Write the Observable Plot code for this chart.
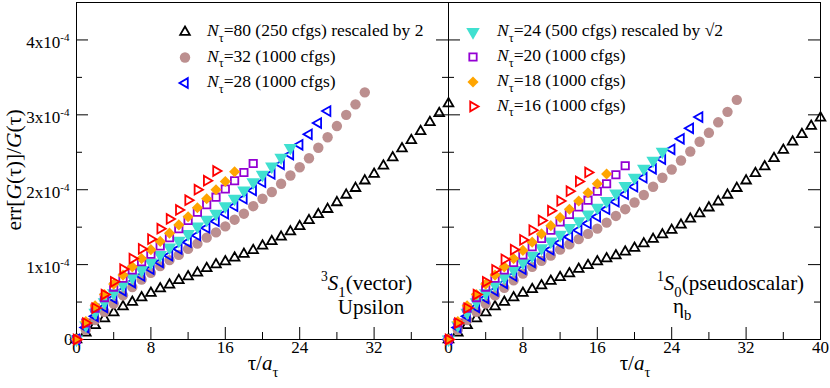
<!DOCTYPE html>
<html><head><meta charset="utf-8">
<script src="https://cdn.jsdelivr.net/npm/d3@7"></script>
<script src="https://cdn.jsdelivr.net/npm/@observablehq/plot@0.6"></script>
<style>body{margin:0;background:#fff}svg{display:block}svg text{font-family:"Liberation Serif","Times New Roman",Times,"DejaVu Serif",serif}</style>
</head><body><div id="chart"></div>
<script>
// ---- data (values in units of 1e-4), index = tau/a_tau ----
const panels = ["vector", "pseudo"];
const seriesKeys = ["N80", "N32", "N28", "N24", "N20", "N18", "N16"];
const seriesLabels = [
  "*{N}_{τ}=80 (250 cfgs) rescaled by 2",
  "*{N}_{τ}=32 (1000 cfgs)",
  "*{N}_{τ}=28 (1000 cfgs)",
  "*{N}_{τ}=24 (500 cfgs) rescaled by √2",
  "*{N}_{τ}=20 (1000 cfgs)",
  "*{N}_{τ}=18 (1000 cfgs)",
  "*{N}_{τ}=16 (1000 cfgs)"
];
// 3S1 (vector, Upsilon)
const vector_N80 = [0, 0.09, 0.19, 0.28, 0.36, 0.44, 0.50, 0.56, 0.62, 0.68, 0.73, 0.79, 0.84, 0.89, 0.95, 1.00, 1.04, 1.09, 1.14, 1.19, 1.25, 1.31, 1.37, 1.44, 1.51, 1.59, 1.67, 1.74, 1.83, 1.93, 2.02, 2.12, 2.21, 2.32, 2.43, 2.55, 2.66, 2.78, 2.90, 3.02, 3.15];
const vector_N32 = [0, 0.13, 0.26, 0.37, 0.48, 0.59, 0.70, 0.80, 0.89, 0.98, 1.06, 1.13, 1.21, 1.28, 1.36, 1.43, 1.51, 1.60, 1.68, 1.78, 1.88, 1.97, 2.08, 2.19, 2.30, 2.42, 2.56, 2.70, 2.85, 3.00, 3.14, 3.30];
const vector_N28 = [0, 0.16, 0.31, 0.43, 0.55, 0.65, 0.76, 0.85, 0.94, 1.03, 1.12, 1.21, 1.30, 1.39, 1.49, 1.58, 1.68, 1.78, 1.88, 1.99, 2.10, 2.21, 2.34, 2.47, 2.60, 2.74, 2.89, 3.05];
const vector_N24 = [0, 0.19, 0.36, 0.50, 0.62, 0.73, 0.83, 0.93, 1.03, 1.13, 1.23, 1.32, 1.41, 1.51, 1.60, 1.68, 1.78, 1.88, 1.99, 2.10, 2.20, 2.31, 2.43, 2.56];
const vector_N20 = [0, 0.22, 0.42, 0.56, 0.70, 0.82, 0.93, 1.04, 1.14, 1.25, 1.36, 1.48, 1.59, 1.70, 1.80, 1.90, 2.01, 2.12, 2.23, 2.35];
const vector_N18 = [0, 0.24, 0.45, 0.60, 0.74, 0.86, 0.97, 1.08, 1.20, 1.31, 1.42, 1.53, 1.64, 1.76, 1.88, 2.00, 2.11, 2.24];
const vector_N16 = [0, 0.22, 0.42, 0.60, 0.77, 0.94, 1.08, 1.21, 1.34, 1.48, 1.61, 1.73, 1.86, 2.00, 2.12, 2.25];
// 1S0 (pseudoscalar, eta_b)
const pseudo_N80 = [0, 0.09, 0.19, 0.28, 0.36, 0.44, 0.50, 0.56, 0.62, 0.67, 0.72, 0.78, 0.83, 0.88, 0.94, 0.99, 1.04, 1.08, 1.12, 1.17, 1.22, 1.28, 1.34, 1.40, 1.46, 1.53, 1.61, 1.68, 1.76, 1.84, 1.93, 2.02, 2.12, 2.22, 2.31, 2.42, 2.53, 2.64, 2.74, 2.85, 2.96];
const pseudo_N32 = [0, 0.13, 0.26, 0.37, 0.48, 0.59, 0.69, 0.79, 0.88, 0.97, 1.05, 1.12, 1.20, 1.27, 1.34, 1.41, 1.48, 1.56, 1.65, 1.74, 1.83, 1.93, 2.04, 2.16, 2.27, 2.39, 2.51, 2.64, 2.76, 2.90, 3.04, 3.20];
const pseudo_N28 = [0, 0.16, 0.31, 0.43, 0.55, 0.65, 0.75, 0.85, 0.94, 1.03, 1.12, 1.20, 1.29, 1.37, 1.46, 1.55, 1.64, 1.74, 1.84, 1.94, 2.04, 2.16, 2.28, 2.41, 2.54, 2.68, 2.82, 2.97];
const pseudo_N24 = [0, 0.19, 0.36, 0.50, 0.62, 0.73, 0.83, 0.93, 1.03, 1.12, 1.22, 1.31, 1.40, 1.49, 1.58, 1.67, 1.76, 1.85, 1.95, 2.05, 2.16, 2.28, 2.39, 2.51];
const pseudo_N20 = [0, 0.22, 0.42, 0.56, 0.70, 0.82, 0.93, 1.03, 1.13, 1.24, 1.35, 1.46, 1.57, 1.67, 1.77, 1.86, 1.98, 2.08, 2.20, 2.32];
const pseudo_N18 = [0, 0.24, 0.45, 0.60, 0.74, 0.86, 0.97, 1.08, 1.19, 1.30, 1.41, 1.52, 1.63, 1.74, 1.85, 1.96, 2.08, 2.21];
const pseudo_N16 = [0, 0.22, 0.42, 0.60, 0.77, 0.93, 1.07, 1.20, 1.33, 1.46, 1.59, 1.72, 1.85, 1.98, 2.11, 2.23];

const xTicksVector = [0, 8, 16, 24, 32];
const xTicksPseudo = [0, 8, 16, 24, 32, 40];
const xMajor = [0, 8, 16, 24, 32, 40];
const xMinor = [4, 12, 20, 28, 36];
const yMajor = [0, 1, 2, 3, 4];
const yMinor = [0.5, 1.5, 2.5, 3.5];
const yTickLabels = ["0", "1x10^{-4}", "2x10^{-4}", "3x10^{-4}", "4x10^{-4}"];

// ---- build table ----
const dataSets = {
  vector: [vector_N80, vector_N32, vector_N28, vector_N24, vector_N20, vector_N18, vector_N16],
  pseudo: [pseudo_N80, pseudo_N32, pseudo_N28, pseudo_N24, pseudo_N20, pseudo_N18, pseudo_N16]
};
const rows = [];
for (const p of panels) dataSets[p].forEach((arr, si) => arr.forEach((v, t) => rows.push({panel: p, series: seriesKeys[si], tau: t, v})));

const styles = {
  N80: {symbol: "triangle2", stroke: "#000000", fill: "none", strokeWidth: 1.8, r: 4.6, rotate: 0},
  N32: {symbol: "circle", fill: "#bc8f8f", r: 5.2},
  N28: {symbol: "triangle2", stroke: "#0000ff", fill: "none", strokeWidth: 1.8, r: 4.6, rotate: -90},
  N24: {symbol: "triangle", fill: "#40e0d0", r: 5.0, rotate: 180},
  N20: {symbol: "square2", stroke: "#9400d3", fill: "none", strokeWidth: 1.8, r: 4.7},
  N18: {symbol: "diamond2", fill: "#ffa500", r: 5.0},
  N16: {symbol: "triangle2", stroke: "#ff0000", fill: "none", strokeWidth: 1.8, r: 4.6, rotate: 90}
};

const xTickRows = [...xTicksVector.map(v => ({panel: "vector", v})), ...xTicksPseudo.map(v => ({panel: "pseudo", v}))];
const yTickRows = yMajor.map((v, i) => ({panel: "vector", v, label: yTickLabels[i]}));

const FONT = "'Liberation Serif','Times New Roman',Times,'DejaVu Serif',serif";
const H = 337;  // frame height
const W = 372;  // facet width
const marks = [
  Plot.tickX(xMajor, {x: d => d, insetTop: H - 12, stroke: "#000"}),
  Plot.tickX(xMinor, {x: d => d, insetTop: H - 7, stroke: "#000"}),
  Plot.tickY(yMajor, {y: d => d, insetRight: W - 12, stroke: "#000"}),
  Plot.tickY(yMajor, {y: d => d, insetLeft: W - 12, stroke: "#000"}),
  Plot.tickY(yMinor, {y: d => d, insetRight: W - 6, stroke: "#000"}),
  Plot.tickY(yMinor, {y: d => d, insetLeft: W - 6, stroke: "#000"}),
  Plot.frame({stroke: "#000", strokeWidth: 1}),
  Plot.text(xTickRows, {x: "v", fx: "panel", text: d => String(d.v), frameAnchor: "bottom", dy: 13, fontSize: 17, fill: "#000"}),
  Plot.text(yTickRows.filter(d => d.v === 0), {y: "v", fx: "panel", text: "label", frameAnchor: "left", textAnchor: "end", dx: -4, fontSize: 17, fill: "#000"}),
  Plot.text(yTickRows.filter(d => d.v !== 0), {y: "v", fx: "panel", text: "label", frameAnchor: "left", textAnchor: "end", dx: -7, dy: 3, fontSize: 17, fill: "#000"})
];
for (const k of seriesKeys) {
  const s = styles[k];
  marks.push(Plot.dot(rows.filter(d => d.series === k), {x: "tau", y: "v", fx: "panel", ...s}));
}

const svg = Plot.plot({
  width: 830, height: 388,
  marginLeft: 76, marginRight: 10, marginTop: 2, marginBottom: 49,
  style: {fontFamily: FONT, fontSize: "16px", color: "#000", background: "#fff"},
  fx: {domain: panels, padding: 0, axis: null},
  x: {domain: [0, 40], axis: null},
  y: {domain: [0, 4.5], axis: null},
  marks
});
document.getElementById("chart").append(svg);

// ---- rich text helper ----
function richify(el, str, fs) {
  const t = d3.select(el);
  t.text(null);
  const re = /([\^_*])\{([^}]*)\}/g;
  let last = 0, m; const parts = [];
  while ((m = re.exec(str))) {
    if (m.index > last) parts.push({k: "", s: str.slice(last, m.index)});
    parts.push({k: m[1], s: m[2]});
    last = re.lastIndex;
  }
  if (last < str.length) parts.push({k: "", s: str.slice(last)});
  let shift = 0;
  for (const p of parts) {
    const ts = t.append("tspan").text(p.s);
    let target = 0;
    if (p.k === "^") { target = -0.42 * fs; ts.attr("font-size", 0.65 * fs); }
    else if (p.k === "_") { target = 0.32 * fs; ts.attr("font-size", 0.7 * fs); }
    else if (p.k === "*") ts.attr("font-style", "italic");
    if (target !== shift) ts.attr("dy", target - shift);
    shift = target;
  }
}
d3.select(svg).selectAll("text").each(function() {
  const s = this.textContent;
  if (/[\^_*]\{/.test(s)) richify(this, s, 17);
});

const root = d3.select(svg);
function addText(x, y, str, fs, anchor = "start", rotate = 0) {
  const t = root.append("text")
    .attr("x", rotate ? 0 : x).attr("y", rotate ? 0 : y)
    .attr("font-family", FONT).attr("font-size", fs)
    .attr("fill", "#000").attr("text-anchor", anchor);
  if (rotate) t.attr("transform", `translate(${x},${y}) rotate(${rotate})`);
  richify(t.node(), str, fs);
  return t;
}
// axis labels
addText(263, 370, "τ/*{a}_{τ}", 21, "middle");
addText(635, 370, "τ/*{a}_{τ}", 21, "middle");
addText(21, 170, "err[*{G}(τ)]/*{G}(τ)", 21.5, "middle", -90);
// annotations
addText(321, 290, "^{3}*{S}_{1}(vector)", 21);
addText(371, 314, "Upsilon", 21, "middle");
addText(657, 290, "^{1}*{S}_{0}(pseudoscalar)", 21);
addText(673, 313, "η_{b}", 21);

// legend
const legendPos = [
  {sx: 185, tx: 207, y: 36}, {sx: 185, tx: 207, y: 61.5}, {sx: 185, tx: 207, y: 87},
  {sx: 473, tx: 497, y: 36}, {sx: 473, tx: 497, y: 61}, {sx: 473, tx: 497, y: 86}, {sx: 473, tx: 497, y: 110.5}
];
const symMap = {triangle2: d3.symbolTriangle2, triangle: d3.symbolTriangle, circle: d3.symbolCircle, square2: d3.symbolSquare2, diamond2: d3.symbolDiamond2};
seriesKeys.forEach((k, i) => {
  const s = styles[k], p = legendPos[i];
  root.append("path")
    .attr("d", d3.symbol(symMap[s.symbol], Math.PI * s.r * s.r)())
    .attr("transform", `translate(${p.sx},${p.y - 4}) rotate(${s.rotate || 0})`)
    .attr("fill", s.fill || "none")
    .attr("stroke", s.stroke || "none")
    .attr("stroke-width", s.strokeWidth || 0);
  addText(p.tx, p.y, seriesLabels[i], 17.5);
});
</script></body></html>
